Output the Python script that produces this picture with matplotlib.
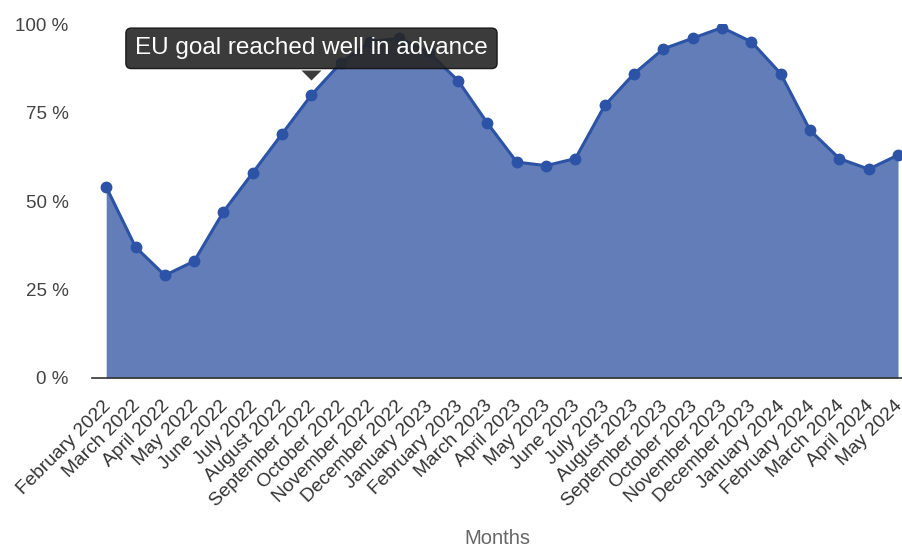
import matplotlib
matplotlib.use('Agg')
import matplotlib.pyplot as plt
import matplotlib.transforms as mtransforms

plt.rcParams['font.family'] = ['Liberation Sans', 'DejaVu Sans']

months = ['February 2022', 'March 2022', 'April 2022', 'May 2022', 'June 2022',
          'July 2022', 'August 2022', 'September 2022', 'October 2022',
          'November 2022', 'December 2022', 'January 2023', 'February 2023',
          'March 2023', 'April 2023', 'May 2023', 'June 2023', 'July 2023',
          'August 2023', 'September 2023', 'October 2023', 'November 2023',
          'December 2023', 'January 2024', 'February 2024', 'March 2024',
          'April 2024', 'May 2024']
filling = [54, 37, 29, 33, 47, 58, 69, 80, 89, 95, 96, 92, 84, 72, 61, 60, 62,
           77, 86, 93, 96, 99, 95, 86, 70, 62, 59, 63]
yticks = [0, 25, 50, 75, 100]
note = 'EU goal reached well in advance'
note_idx = 7

fill_col = '#627db8'
line_col = '#2c53a6'
tip_col = '#262626'

fig = plt.figure(figsize=(9.03, 5.47), dpi=100)
ax = fig.add_axes([0.102, 0.309, 0.898, 0.647])

x = list(range(len(months)))
ax.fill_between(x, filling, 0, color=fill_col, lw=0)
ax.plot(x, filling, color=line_col, lw=2.2, marker='o', ms=7.5, zorder=3)

ax.set_xlim(-0.48, 27.17)
ax.set_ylim(0, 100)
ax.set_yticks(yticks)
ax.set_yticklabels([f'{v} %' for v in yticks])
ax.set_xticks(x)
ax.set_xticklabels(months, rotation=45, ha='right', va='top', rotation_mode='anchor')
ax.tick_params(axis='y', length=0, pad=17, labelsize=13.5, labelcolor='#444444')
ax.tick_params(axis='x', length=0, pad=14, labelsize=13.8, labelcolor='#333333')

# nudge the rotated month labels a little to the left so the last one fits
shift = mtransforms.ScaledTranslation(-3 / 72, 0, fig.dpi_scale_trans)
for lbl in ax.get_xticklabels():
    lbl.set_transform(lbl.get_transform() + shift)

for side in ['top', 'right', 'left']:
    ax.spines[side].set_visible(False)
ax.spines['bottom'].set_color('#333333')
ax.spines['bottom'].set_linewidth(1.2)
ax.spines['bottom'].set_zorder(4)

ax.set_xlabel('Months', fontsize=14.5, color='#666666', labelpad=14)

# tooltip above the September 2022 point
ax.annotate(note, xy=(note_idx, filling[note_idx]), xytext=(0, 33.5),
            textcoords='offset points', ha='center', va='center',
            fontsize=17.5, color='white', zorder=6,
            bbox=dict(boxstyle='round,pad=0.38,rounding_size=0.22',
                      fc=tip_col, ec='#111111', lw=1, alpha=0.9))
tip = mtransforms.offset_copy(ax.transData, fig=fig, x=0, y=14.4, units='points')
ax.plot(note_idx, filling[note_idx], marker=[(-1, 0.5), (1, 0.5), (0, -0.5)],
        ms=14.4, color=tip_col, alpha=0.9, mec='none', transform=tip, zorder=6)

fig.savefig('out.png', dpi=100)
